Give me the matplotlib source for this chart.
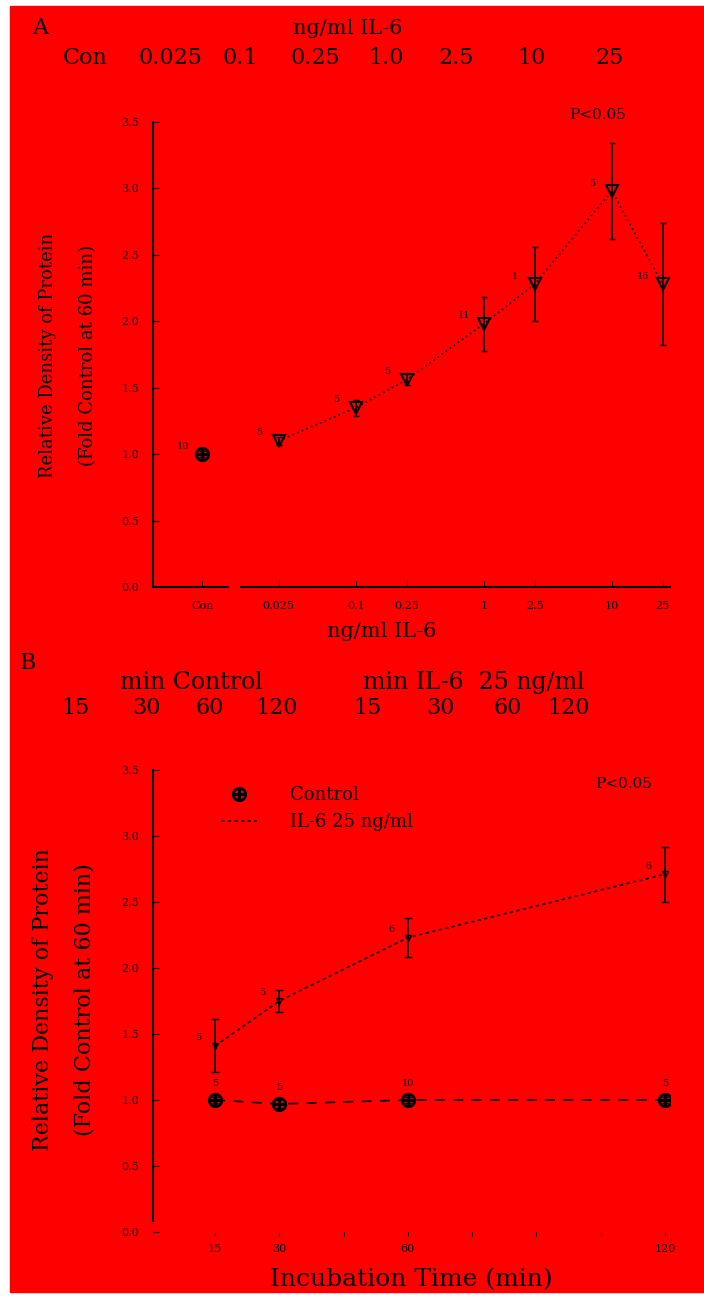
import numpy as np
import matplotlib
matplotlib.use('Agg')
import matplotlib.pyplot as plt
from matplotlib.patches import Rectangle
from matplotlib.lines import Line2D

plt.rcParams['font.family'] = ['DejaVu Serif', 'Liberation Serif']

# panel A: dose response
dose_labels = ['Con', '0.025', '0.1', '0.25', '1', '2.5', '10', '25']
dose_values = [0.0063, 0.025, 0.1, 0.25, 1.0, 2.5, 10.0, 25.0]
dose_density = [1.00, 1.10, 1.35, 1.56, 1.98, 2.28, 2.98, 2.28]
dose_err = [0.02, 0.03, 0.06, 0.04, 0.20, 0.28, 0.36, 0.46]
dose_n = ['10', '5', '5', '5', '11', '1', '5', '16']
lane_labels_a = ['Con', '0.025', '0.1', '0.25', '1.0', '2.5', '10', '25']

# panel B: time course
time_min = [15, 30, 60, 120]
control_density = [1.00, 0.97, 1.00, 1.00]
control_err = [0.02, 0.03, 0.02, 0.02]
control_n = ['5', '5', '10', '5']
il6_density = [1.41, 1.75, 2.23, 2.71]
il6_err = [0.20, 0.08, 0.15, 0.21]
il6_n = ['5', '5', '6', '6']
lane_labels_b = ['15', '30', '60', '120', '15', '30', '60', '120']

RED = '#ff0000'
W, H = 704, 1296

fig = plt.figure(figsize=(W / 100, H / 100), dpi=100)
fig.patch.set_facecolor('white')
fig.patches.append(Rectangle((10 / W, 4 / H), 694 / W, 1286 / H,
                             transform=fig.transFigure, color=RED, zorder=-10))


def fx(px):
    return px / W


def fy(py):
    return 1 - py / H


# ---------------- panel A ----------------
axA = fig.add_axes([fx(153), fy(587), fx(670 - 153), (587 - 122) / H])
axA.set_facecolor('none')
xa = np.log10(dose_values)
axA.plot(xa[1:], dose_density[1:], linestyle=(0, (1, 2)), color='black', lw=1.2)
axA.errorbar(xa, dose_density, yerr=dose_err, fmt='none', ecolor='black',
             elinewidth=1.2, capsize=2)
axA.plot(xa[1:], dose_density[1:], 'v', ms=8, mfc='none', mec='black', mew=1.5)
axA.plot(xa[:1], dose_density[:1], marker=r'$\oplus$', ms=10, color='black', ls='none')
for x, y, e, n in zip(xa, dose_density, dose_err, dose_n):
    axA.annotate(n, (x, y), xytext=(-14, 4), textcoords='offset points',
                 fontsize=7, ha='center')
axA.set_xlim(-2.584, 1.455)
axA.set_ylim(0, 3.5)
axA.set_xticks(xa)
axA.set_xticklabels(dose_labels, fontsize=8)
axA.set_yticks(np.arange(0, 3.51, 0.5))
axA.set_yticklabels(['%.1f' % v for v in np.arange(0, 3.51, 0.5)], fontsize=8)
axA.tick_params(direction='in', length=4, pad=10)
for s in ['top', 'right', 'bottom']:
    axA.spines[s].set_visible(False)
axA.spines['left'].set_linewidth(1.5)
axA.axhline(0, xmin=0, xmax=0.145, color='black', lw=1.5, clip_on=False)
axA.axhline(0, xmin=0.17, xmax=1, color='black', lw=1.5, clip_on=False)
axA.set_xlabel('ng/ml IL-6', fontsize=15, labelpad=12)
axA.xaxis.set_label_coords(0.443, -0.075)
axA.text(0.86, 1.0, 'P<0.05', transform=axA.transAxes, fontsize=11, ha='center', va='bottom')

fig.text(fx(40), fy(28), 'A', fontsize=16, ha='center', va='center')
fig.text(fx(348), fy(28), 'ng/ml IL-6', fontsize=15, ha='center', va='center')
for lbl, px in zip(lane_labels_a, [85, 170, 240, 315, 386, 456, 532, 610]):
    fig.text(fx(px), fy(58), lbl, fontsize=16, ha='center', va='center')
fig.text(fx(48), fy(355), 'Relative Density of Protein', fontsize=13,
         rotation=90, ha='center', va='center')
fig.text(fx(88), fy(355), '(Fold Control at 60 min)', fontsize=13,
         rotation=90, ha='center', va='center')

# ---------------- panel B ----------------
axB = fig.add_axes([fx(153), fy(1232), fx(670 - 153), (1232 - 770) / H])
axB.set_facecolor('none')
axB.errorbar(time_min, control_density, yerr=control_err, fmt='none',
             ecolor='black', elinewidth=1.2, capsize=2)
axB.errorbar(time_min, il6_density, yerr=il6_err, fmt='none',
             ecolor='black', elinewidth=1.2, capsize=3)
axB.plot(time_min, control_density, linestyle=(0, (6, 5)), color='black', lw=1.2)
axB.plot(time_min, il6_density, linestyle=(0, (2, 2)), color='black', lw=1.2)
axB.plot(time_min, control_density, marker=r'$\oplus$', ms=10, color='black', ls='none')
axB.plot(time_min, il6_density, 'v', ms=4, mfc='none', mec='black', mew=1)
for x, y, n in zip(time_min, control_density, control_n):
    axB.annotate(n, (x, y), xytext=(0, 10), textcoords='offset points',
                 fontsize=7, ha='center')
for x, y, n in zip(time_min, il6_density, il6_n):
    axB.annotate(n, (x, y), xytext=(-12, 4), textcoords='offset points',
                 fontsize=7, ha='center')
axB.set_xlim(0.5, 121.2)
axB.set_ylim(0, 3.5)
axB.set_xticks(np.arange(15, 121, 15))
axB.set_xticklabels(['15', '30', '', '60', '', '', '', '120'], fontsize=8)
axB.set_yticks(np.arange(0, 3.51, 0.5))
axB.set_yticklabels(['%.1f' % v for v in np.arange(0, 3.51, 0.5)], fontsize=8)
axB.tick_params(axis='y', direction='in', length=4, pad=10)
axB.tick_params(axis='x', direction='out', length=3, pad=6)
for s in ['top', 'right', 'bottom']:
    axB.spines[s].set_visible(False)
axB.spines['left'].set_linewidth(1.5)
axB.spines['left'].set_bounds(0.08, 3.5)
axB.set_xlabel('Incubation Time (min)', fontsize=18, labelpad=10)
axB.text(0.91, 0.985, 'P<0.05', transform=axB.transAxes, fontsize=11, ha='center', va='top')
handles = [Line2D([], [], marker=r'$\oplus$', ms=10, color='black', ls='none'),
           Line2D([], [], linestyle=(0, (2, 2)), color='black', lw=1.2)]
axB.legend(handles, ['Control', 'IL-6 25 ng/ml'], loc='upper left',
           bbox_to_anchor=(0.1, 1.0), frameon=False, fontsize=13,
           handlelength=2.0, handletextpad=1.8)

fig.text(fx(28), fy(663), 'B', fontsize=16, ha='center', va='center')
fig.text(fx(191), fy(683), 'min Control', fontsize=17, ha='center', va='center')
fig.text(fx(474), fy(683), 'min IL-6  25 ng/ml', fontsize=17, ha='center', va='center')
for lbl, px in zip(lane_labels_b, [75, 146, 210, 277, 367, 440, 508, 569]):
    fig.text(fx(px), fy(708), lbl, fontsize=16, ha='center', va='center')
fig.text(fx(43), fy(1000), 'Relative Density of Protein', fontsize=16,
         rotation=90, ha='center', va='center')
fig.text(fx(85), fy(1000), '(Fold Control at 60 min)', fontsize=16,
         rotation=90, ha='center', va='center')

fig.savefig('out.png', dpi=100, facecolor=fig.get_facecolor())
